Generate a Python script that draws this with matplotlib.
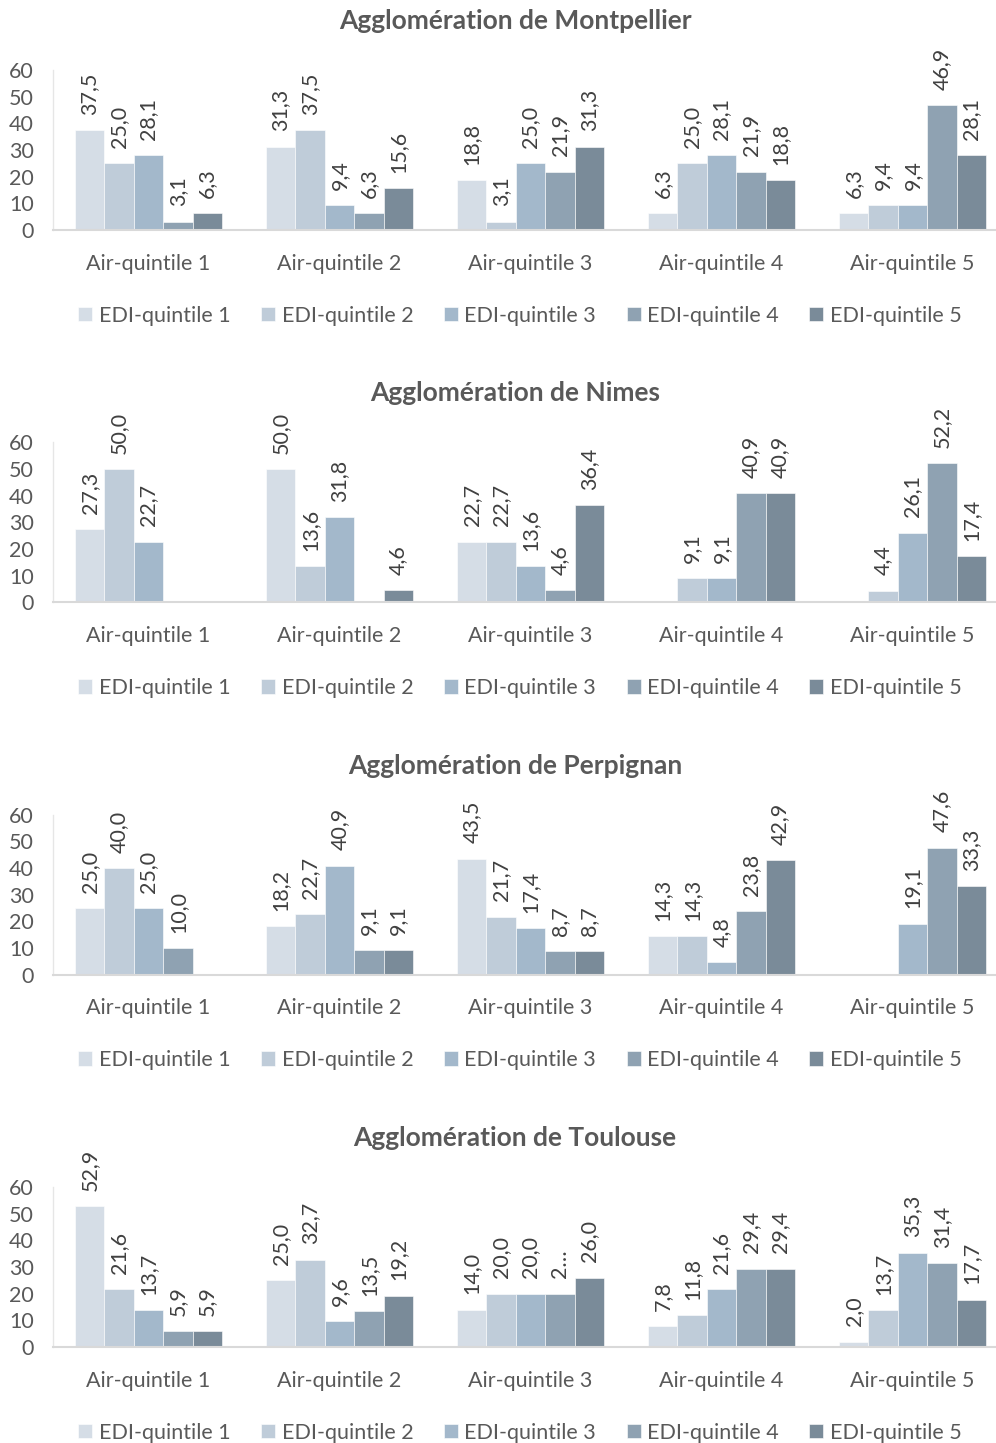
import matplotlib
matplotlib.use('Agg')
import matplotlib.pyplot as plt
import numpy as np

plt.rcParams['font.family'] = ['Lato', 'DejaVu Sans']

# Données : pour chaque agglomération, une liste par Air-quintile (EDI-quintile 1..5)
villes = ['Montpellier', 'Nimes', 'Perpignan', 'Toulouse']
groupes = ['Air-quintile 1', 'Air-quintile 2', 'Air-quintile 3', 'Air-quintile 4', 'Air-quintile 5']
series = ['EDI-quintile 1', 'EDI-quintile 2', 'EDI-quintile 3', 'EDI-quintile 4', 'EDI-quintile 5']

montpellier = [
    [37.5, 25.0, 28.1, 3.1, 6.3],
    [31.3, 37.5, 9.4, 6.3, 15.6],
    [18.8, 3.1, 25.0, 21.9, 31.3],
    [6.3, 25.0, 28.1, 21.9, 18.8],
    [6.3, 9.4, 9.4, 46.9, 28.1],
]
nimes = [
    [27.3, 50.0, 22.7, None, None],
    [50.0, 13.6, 31.8, None, 4.6],
    [22.7, 22.7, 13.6, 4.6, 36.4],
    [None, 9.1, 9.1, 40.9, 40.9],
    [None, 4.4, 26.1, 52.2, 17.4],
]
perpignan = [
    [25.0, 40.0, 25.0, 10.0, None],
    [18.2, 22.7, 40.9, 9.1, 9.1],
    [43.5, 21.7, 17.4, 8.7, 8.7],
    [14.3, 14.3, 4.8, 23.8, 42.9],
    [None, None, 19.1, 47.6, 33.3],
]
toulouse = [
    [52.9, 21.6, 13.7, 5.9, 5.9],
    [25.0, 32.7, 9.6, 13.5, 19.2],
    [14.0, 20.0, 20.0, 20.0, 26.0],
    [7.8, 11.8, 21.6, 29.4, 29.4],
    [2.0, 13.7, 35.3, 31.4, 17.7],
]
donnees = [montpellier, nimes, perpignan, toulouse]
# étiquette tronquée dans l'original (Toulouse, Air-quintile 3, EDI-quintile 4)
etiquettes_speciales = {(3, 2, 3): '2…'}

couleurs = ['#D5DDE6', '#BFCCD9', '#A3B8CB', '#8FA2B2', '#7A8B99']
gris_texte = '#595959'
gris_label = '#404040'
taille = 15.5

fig = plt.figure(figsize=(9.96, 14.43), dpi=100)
H = 1443.0
W = 996.0
largeur = 0.154

for k, (ville, table) in enumerate(zip(villes, donnees)):
    haut_px = 70 + k * 372.3
    bas_px = 230 + k * 372.3
    ax = fig.add_axes([53 / W, 1 - bas_px / H, 955 / W, (bas_px - haut_px) / H])
    x = np.arange(len(groupes))
    for j, nom in enumerate(series):
        vals = np.array([np.nan if g[j] is None else g[j] for g in table], dtype=float)
        pos = x + (j - 2) * largeur
        ax.bar(pos, np.nan_to_num(vals), width=largeur, color=couleurs[j],
               edgecolor='white', linewidth=0.4, label=nom)
        for i, v in enumerate(vals):
            if np.isnan(v):
                continue
            txt = etiquettes_speciales.get((k, i, j), f'{v:.1f}'.replace('.', ','))
            ax.annotate(txt, (pos[i], v), xytext=(0, 11), textcoords='offset points',
                        ha='center', va='bottom', rotation=90, fontsize=taille,
                        color=gris_label, annotation_clip=False)
    ax.set_xlim(-0.5, 4.5)
    ax.set_ylim(0, 60)
    ax.set_yticks(range(0, 61, 10))
    ax.set_xticks(x)
    ax.set_xticklabels(groupes)
    ax.tick_params(axis='both', length=0, labelsize=taille, colors=gris_texte)
    ax.tick_params(axis='x', pad=17)
    ax.tick_params(axis='y', pad=14)
    for s in ['top', 'right']:
        ax.spines[s].set_visible(False)
    ax.spines['bottom'].set_color('#D9D9D9')
    ax.spines['bottom'].set_linewidth(1.5)
    ax.spines['left'].set_color('#E6E6E6')
    ax.spines['left'].set_linewidth(1)
    fig.text(515 / W, 1 - (21 + k * 372.3) / H, f'Agglomération de {ville}',
             ha='center', va='center', fontsize=19, fontweight='bold', color=gris_texte)
    ax.legend(loc='center', bbox_to_anchor=(0.489, -0.535), ncol=5, frameon=False,
              fontsize=taille, labelcolor=gris_texte, handlelength=0.65, handleheight=0.65,
              handletextpad=0.3, columnspacing=1.42)

fig.savefig('out.png', dpi=100)
